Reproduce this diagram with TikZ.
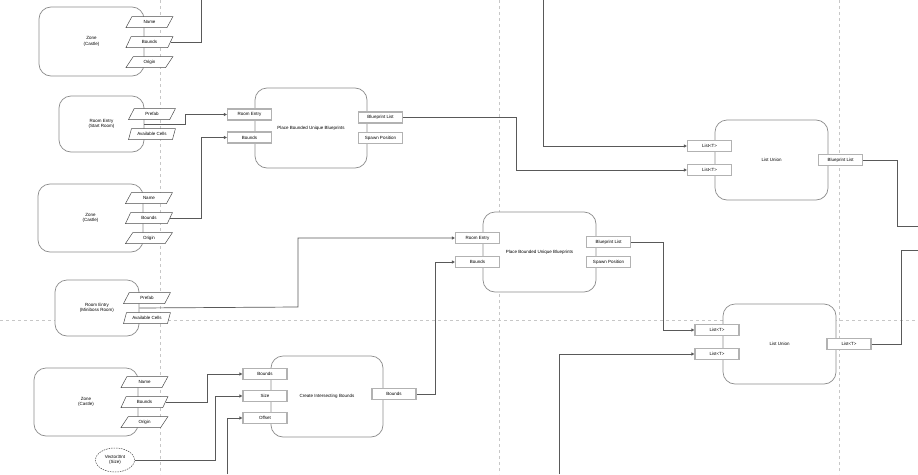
\documentclass[tikz,border=0pt]{standalone}
\usepackage{fontspec}
\setmainfont{Liberation Sans}
\usetikzlibrary{shapes.geometric,arrows.meta,calc}
\begin{document}
\begin{tikzpicture}[x=1pt,y=-1pt,
 font=\fontsize{4.5}{5.4}\selectfont,
 gridline/.style={draw=black!22,dash pattern=on 3pt off 3pt,line width=0.6pt},
 block/.style={draw=black!45,line width=0.7pt,rounded corners=12pt,fill=white,align=center,inner sep=0pt},
 port/.style={draw=black!30,line width=1.2pt,fill=white,minimum width=44pt,minimum height=11pt,inner sep=0pt},
 para/.style={trapezium,trapezium stretches=true,trapezium left angle=57,trapezium right angle=123,draw=black!70,line width=0.5pt,fill=white,minimum width=47pt,minimum height=11pt,inner sep=0pt},
 conn/.style={draw=black!65,line width=0.7pt},
 arr/.style={conn,-{Triangle[length=3pt,width=3pt]}},
]
\useasboundingbox (0,0) rectangle (918,474);
\fill[white] (0,0) rectangle (918,474);
% grid
\draw[gridline] (160,0) -- (160,474);
\draw[gridline] (499,0) -- (499,474);
\draw[gridline] (839,0) -- (839,474);
\draw[gridline] (0,320) -- (918,320);

% source blocks
\node[block,minimum width=105pt,minimum height=69pt] (zone1) at (91.5,41.5) {Zone\\(Castle)};
\node[block,minimum width=85pt,minimum height=56pt] (re1) at (101.5,124) {Room Entry\\(Start Room)};
\node[block,minimum width=105pt,minimum height=68pt] (zone2) at (90.5,218) {Zone\\(Castle)};
\node[block,minimum width=84pt,minimum height=56pt] (re2) at (97,308) {Room Entry\\(Miniboss Room)};
\node[block,minimum width=104pt,minimum height=68pt] (zone3) at (86,402) {Zone\\(Castle)};
\node[ellipse,draw=black!70,line width=0.5pt,dash pattern=on 1.5pt off 1pt,fill=white,minimum width=39pt,minimum height=24pt,inner sep=0pt,align=center] (vec) at (115,460) {Vector3Int\\(Size)};

% parameters
\node[para] (z1n) at (149.5,22) {Name};
\node[para] (z1b) at (149.5,42) {Bounds};
\node[para] (z1o) at (149.5,62) {Origin};
\node[para] (re1p) at (152,114) {Prefab};
\node[para] (re1a) at (152,134) {Available Cells};
\node[para] (z2n) at (149,198) {Name};
\node[para] (z2b) at (149,218) {Bounds};
\node[para] (z2o) at (149,238) {Origin};
\node[para] (re2p) at (147,298) {Prefab};
\node[para] (re2a) at (147,318) {Available Cells};
\node[para] (z3n) at (144.5,382) {Name};
\node[para] (z3b) at (144.5,402) {Bounds};
\node[para] (z3o) at (144.5,422) {Origin};

% function blocks
\node[block,minimum width=112pt,minimum height=80pt] (pb1) at (311,128) {Place Bounded Unique Blueprints};
\node[block,minimum width=113pt,minimum height=80pt] (pb2) at (539.5,252) {Place Bounded Unique Blueprints};
\node[block,minimum width=112pt,minimum height=81pt] (cib) at (327,396.5) {Create Intersecting Bounds};
\node[block,minimum width=113pt,minimum height=80pt] (lu1) at (771.5,160) {List Union};
\node[block,minimum width=113pt,minimum height=80pt] (lu2) at (779.5,344) {List Union};

% ports
\node[port] (pb1i1) at (249.5,114.5) {Room Entry};
\node[port] (pb1i2) at (249.5,137.5) {Bounds};
\node[port] (pb1o1) at (380.5,117.5) {Blueprint List};
\node[port] (pb1o2) at (380.5,138) {Spawn Position};
\node[port] (pb2i1) at (477.5,238) {Room Entry};
\node[port] (pb2i2) at (477.5,262) {Bounds};
\node[port] (pb2o1) at (608.5,242) {Blueprint List};
\node[port] (pb2o2) at (608.5,262) {Spawn Position};
\node[port] (cibi1) at (265,374) {Bounds};
\node[port] (cibi2) at (265,396) {Size};
\node[port] (cibi3) at (265,418) {Offset};
\node[port] (cibo) at (394,394) {Bounds};
\node[port] (lu1i1) at (709.5,146) {List<T>};
\node[port] (lu1i2) at (709.5,170) {List<T>};
\node[port] (lu1o) at (840.5,160) {Blueprint List};
\node[port] (lu2i1) at (717,330) {List<T>};
\node[port] (lu2i2) at (717,354) {List<T>};
\node[port] (lu2o) at (849,344) {List<T>};

% free ends
\coordinate (top1) at (201,0);
\coordinate (top2) at (543,0);
\coordinate (bot1) at (227,474);
\coordinate (bot2) at (559,474);
\coordinate (right1) at (918,226);
\coordinate (right2) at (918,250);

% connectors
\draw[conn] (z1b.east) -| (top1);
\draw[arr] (re1.east) -- (185,124) |- (pb1i1.west);
\draw[arr] (z2b.east) -- (201,218) |- (pb1i2.west);
\draw[arr] (pb1o1.east) -- (516,117.5) |- (lu1i2.west);
\draw[arr] (top2) |- (lu1i1.west);
\draw[conn] (lu1o.east) -- (897,160) |- (right1);
\draw[arr] (re2.east) -- (298,307) |- (pb2i1.west);
\draw[arr] (cibo.east) -- (435,394) |- (pb2i2.west);
\draw[arr] (pb2o1.east) -- (663,242) |- (lu2i1.west);
\draw[arr] (bot2) |- (lu2i2.west);
\draw[conn] (lu2o.east) -- (901,344) |- (right2);
\draw[arr] (z3b.east) -- (207,402) |- (cibi1.west);
\draw[arr] (vec.east) -- (215,460) |- (cibi2.west);
\draw[arr] (bot1) |- (cibi3.west);
\end{tikzpicture}
\end{document}
